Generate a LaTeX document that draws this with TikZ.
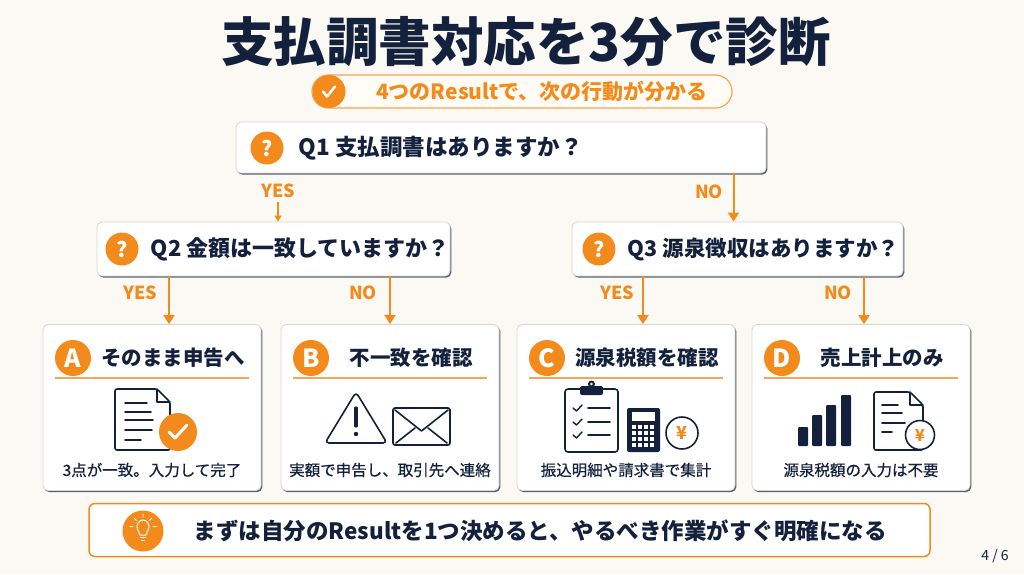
\documentclass[tikz,border=0pt]{standalone}
\usepackage{fontspec}
\setmainfont{Noto Sans CJK JP}
\usetikzlibrary{arrows.meta,positioning,shadows}
\definecolor{navy}{HTML}{14213D}
\definecolor{brand}{HTML}{F28A1C}
\definecolor{paper}{HTML}{FBF9F4}
\definecolor{boxline}{HTML}{D9D6D0}
\definecolor{rule}{HTML}{F6A45A}
\definecolor{pillline}{HTML}{F5A35A}
\definecolor{pillfill}{HTML}{FFFCF6}
\begin{document}
\begin{tikzpicture}[x=1pt,y=-1pt,
  qbox/.style={draw=boxline,fill=white,rounded corners=5pt,line width=0.8pt,
    drop shadow={shadow xshift=1.3pt,shadow yshift=-1.6pt,fill=navy,opacity=0.7}},
  card/.style={qbox,minimum width=218pt,minimum height=166pt},
  qmark/.style={circle,fill=brand,text=white,minimum size=33pt,inner sep=0pt,font=\fontsize{21}{21}\selectfont\bfseries},
  badge/.style={circle,fill=brand,text=white,minimum size=36pt,inner sep=0pt,font=\fontsize{25}{25}\selectfont\bfseries},
  qtext/.style={text=navy,inner sep=0pt,anchor=west,font=\fontsize{22.5}{26}\selectfont\bfseries},
  ctitle/.style={text=navy,inner sep=0pt,font=\fontsize{20.5}{24}\selectfont\bfseries},
  capt/.style={text=navy,inner sep=0pt,font=\fontsize{15.5}{18}\selectfont\addfontfeature{FakeBold=0.5}},
  yesno/.style={text=brand,inner sep=0pt,font=\fontsize{18}{20}\selectfont\bfseries},
  arr/.style={draw=brand,line width=2pt,-{Triangle[width=11pt,length=9pt]}},
  icon/.style={draw=navy,line width=1.6pt,line join=round,line cap=round},
  yen/.style={circle,draw=navy,line width=1.6pt,fill=white,text=brand,inner sep=0pt,font=\fontsize{18}{18}\selectfont\bfseries}]
\fill[paper] (0,0) rectangle (1024,574);
\useasboundingbox (0,0) rectangle (1024,574);

\node[text=navy,font=\fontsize{52.5}{58}\selectfont\bfseries] (title) at (526,42) {支払調書対応を3分で診断};

\node[draw=pillline,fill=pillfill,line width=1.2pt,rounded corners=16.5pt,minimum width=420pt,minimum height=33pt] (sub) at (522,91.5) {};
\node[circle,fill=brand,minimum size=33pt] (subchk) at (329,91.5) {};
\draw[white,line width=2.5pt,line cap=round,line join=round] ([xshift=-6pt]subchk.center) -- ++(4,5) -- ++(8,-10);
\node[text=brand,font=\fontsize{21}{24}\selectfont\bfseries] (subtext) at (542,91.5) {4つのResultで、次の行動が分かる};

\node[qbox,minimum width=530pt,minimum height=51pt] (q1) at (501,147.5) {};
\node[qmark] (q1m) at (267,148) {?};
\node[qtext,right=15pt of q1m] (q1t) {Q1 支払調書はありますか？};

\node[qbox,minimum width=353pt,minimum height=54pt] (q2) at (273.5,249) {};
\node[qmark] (q2m) at (122,249) {?};
\node[qtext,right=12pt of q2m,font=\fontsize{22}{26}\selectfont\bfseries] (q2t) {Q2 金額は一致していますか？};

\node[qbox,minimum width=331pt,minimum height=54pt] (q3) at (737.5,249) {};
\node[qmark] (q3m) at (599,249) {?};
\node[qtext,right=12pt of q3m,font=\fontsize{21.5}{26}\selectfont\bfseries] (q3t) {Q3 源泉徴収はありますか？};

\foreach \n/\x/\l/\t/\c in {a/152/A/そのまま申告へ/3点が一致。入力して完了,
  b/390/B/不一致を確認/実額で申告し、取引先へ連絡,
  c/626/C/源泉税額を確認/振込明細や請求書で集計,
  d/861/D/売上計上のみ/源泉税額の入力は不要}{
  \node[card] (\n) at (\x,407.5) {};
  \node[badge] (\n-badge) at (\x-79,358) {\l};
  \node[ctitle] (\n-title) at (\x+21,358) {\t};
  \draw[line width=1.5pt,draw=rule] (\x-97,378) -- (\x+97,378);
  \node[capt] (\n-capt) at (\x,470) {\c};
}

\node[yesno] (yes1) at (278,191) {YES};
\node[yesno] (no1) at (709,192) {NO};
\node[yesno] (yes2) at (140,293) {YES};
\node[yesno] (no2) at (363,293) {NO};
\node[yesno] (yes3) at (617,293) {YES};
\node[yesno] (no3) at (838,293) {NO};

\draw[brand,line width=1.3pt,-{Triangle[width=7pt,length=6pt]}] ([yshift=-4pt]yes1.south) -- (yes1.south |- q2.north);
\draw[arr] ([xshift=-4pt]q3.north |- q1.south) -- ([xshift=-4pt]q3.north);
\draw[arr] ([xshift=17pt]a.north |- q2.south) -- ([xshift=17pt]a.north);
\draw[arr] (b.north |- q2.south) -- (b.north);
\draw[arr] ([xshift=17pt]c.north |- q3.south) -- ([xshift=17pt]c.north);
\draw[arr] ([xshift=3pt]d.north |- q3.south) -- ([xshift=3pt]d.north);

% card A icon
\draw[icon,rounded corners=2pt] (115,420) -- (115,389) -- (157,389) -- (170,402) -- (170,450) -- (115,450) -- cycle;
\draw[icon] (157,389) -- (157,402) -- (170,402);
\foreach \y/\w in {403/22,412/26,420/28,430/27,440/16} \draw[icon] (125,\y) -- ++(\w,0);
\fill[brand] (178,432) circle (19);
\draw[white,line width=3pt,line cap=round,line join=round] (169,432) -- (175,438) -- (187,425);

% card B icon
\draw[icon,rounded corners=4pt] (371.5,417.5) -- (387,443) -- (325,443) -- (356,392) -- cycle;
\draw[navy,line width=3.2pt,line cap=round] (356,408) -- (356,426);
\fill[navy] (356,434) circle (2.2);
\draw[icon,rounded corners=2pt] (393,408) rectangle (450,445);
\draw[icon] (395,410) -- (421.5,431) -- (448,410);
\draw[icon] (396,443) -- (415,428);
\draw[icon] (447,443) -- (428,428);

% card C icon
\draw[icon,rounded corners=3pt] (565,389) rectangle (618,452);
\fill[navy,rounded corners=2pt] (580,386) rectangle (603,395);
\fill[navy] (591.5,384) circle (3.5);
\fill[white] (591.5,384) circle (1.3);
\foreach \y in {408,422,435} {
  \draw[icon,line width=1.4pt] (573,\y) -- (576.5,\y+3) -- (582,\y-3);
  \draw[icon] (588,\y) -- (610,\y);
}
\fill[navy,rounded corners=2pt] (627,408) rectangle (660,452);
\fill[white] (632,412) rectangle (655,421);
\foreach \i in {0,...,3} \foreach \j in {0,...,3} \fill[white] (632+\i*6,425+\j*6) rectangle ++(4.2,4.2);
\node[yen,minimum size=32pt] (yenc) at (682,433) {¥};

% card D icon
\foreach \x/\t in {798/427,812/415,826/405,841/395} \fill[navy,rounded corners=1pt] (\x,\t) rectangle (\x+10,446);
\draw[icon,rounded corners=2pt] (874,421) -- (874,392) -- (910,392) -- (923,405) -- (923,450) -- (874,450) -- cycle;
\draw[icon] (910,392) -- (910,405) -- (923,405);
\foreach \y/\w in {405/16,413/20,423/23,432/10} \draw[icon] (882,\y) -- ++(\w,0);
\node[yen,minimum size=29pt,font=\fontsize{16.5}{16}\selectfont\bfseries] (yend) at (920,435) {¥};

\node[draw=brand,fill=white,line width=1.5pt,rounded corners=6pt,minimum width=841pt,minimum height=53pt] (tip) at (509.5,530) {};
\node[circle,fill=brand,minimum size=41pt] (bulb) at (143,531) {};
\begin{scope}[shift={(bulb.center)},white,line width=1pt,line cap=round,line join=round]
\draw (-3,4) .. controls (-3,1) and (-6,-0.5) .. (-6,-4.5) .. controls (-6,-8) and (-3,-11) .. (0,-11) .. controls (3,-11) and (6,-8) .. (6,-4.5) .. controls (6,-0.5) and (3,1) .. (3,4) -- cycle;
\draw (-2.5,6.5) -- (2.5,6.5) (-1.5,9) -- (1.5,9);
\draw (0,-17) -- (0,-14) (-8.5,-12.5) -- (-6.5,-10.5) (8.5,-12.5) -- (6.5,-10.5) (-13,-4.5) -- (-10,-4.5) (13,-4.5) -- (10,-4.5);
\end{scope}
\node[text=navy,font=\fontsize{22.5}{26}\selectfont\bfseries,inner sep=0pt,right=30pt of bulb] (tiptext) {まずは自分のResultを1つ決めると、やるべき作業がすぐ明確になる};
\node[text=navy,font=\fontsize{14}{16}\selectfont] (page) at (995,556) {4 / 6};
\end{tikzpicture}
\end{document}
